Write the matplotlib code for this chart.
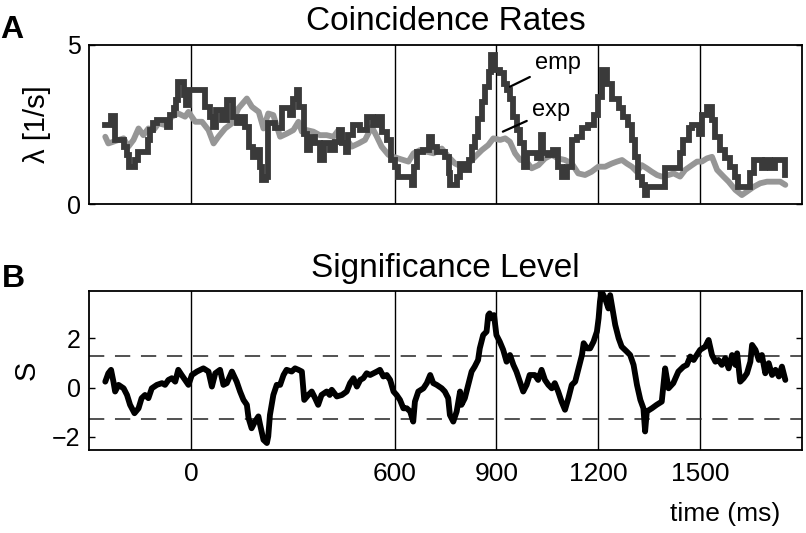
import matplotlib
matplotlib.use('Agg')
import matplotlib.pyplot as plt

# ---------------- data ----------------
emp_t = [-252, -235, -223, -198, -188, -182, -164, -156, -127, -120, -110, -100, -71, -61, -51, -44, -37,
         -21, -15, -4, 43, 55, 65, 74, 92, 106, 123, 135, 150, 160, 170, 184, 194, 204, 209, 220, 228,
         248, 268, 292, 302, 312, 320, 332, 341, 351, 366, 379, 391, 410, 425, 435, 445, 457, 464, 478,
         498, 518, 538, 552, 562, 577, 591, 601, 611, 650, 657, 665, 685, 700, 710, 724, 749, 759, 764,
         784, 793, 808, 818, 828, 838, 847, 857, 867, 877, 885, 896, 911, 921, 931, 940, 950, 960, 970,
         980, 989, 1019, 1031, 1038, 1053, 1068, 1082, 1092, 1107, 1122, 1136, 1151, 1171, 1186, 1200,
         1210, 1225, 1240, 1260, 1274, 1289, 1299, 1309, 1318, 1328, 1338, 1343, 1397, 1441, 1451, 1466,
         1476, 1496, 1505, 1520, 1535, 1545, 1560, 1574, 1589, 1604, 1613, 1648, 1658, 1682, 1692, 1707,
         1721, 1751]
emp_v = [2.49, 2.77, 2.02, 1.81, 1.55, 1.18, 1.39, 1.65, 2.02, 2.33, 2.54, 2.64, 2.43, 2.80, 3.01, 3.27, 3.84,
         3.43, 3.11, 3.58, 3.06, 2.75, 2.43, 2.96, 2.64, 3.27, 2.75, 2.54, 2.75, 2.43, 1.81, 1.49, 1.70, 1.18, 0.76, 0.87, 2.54,
         2.38, 3.01, 2.80, 3.32, 3.58, 3.06, 2.22, 1.70, 2.12, 1.91, 1.39, 1.91, 1.70, 1.96, 2.33, 1.91, 1.65, 2.17, 2.49,
         2.33, 2.75, 2.49, 2.75, 2.28, 2.02, 1.39, 1.18, 0.87, 0.61, 1.18, 1.65, 1.70, 2.12, 1.81, 1.65, 1.49, 0.97, 0.61,
         0.87, 1.28, 1.08, 1.39, 1.81, 2.12, 2.69, 3.22, 3.69, 4.16, 4.68, 4.21, 4.11, 3.79, 3.58, 3.32, 2.75, 2.33, 1.91,
         1.18, 1.60, 1.44, 2.17, 1.60, 1.55, 1.70, 1.18, 0.87, 1.18, 2.02, 2.12, 2.38, 2.49, 2.80, 3.37,
         4.21, 3.79, 3.32, 3.01, 2.75, 2.49, 2.02, 1.49, 0.87, 0.61, 0.29, 0.55, 1.13, 1.60, 2.02, 2.38,
         2.49, 2.22, 2.80, 3.06, 2.64, 2.12, 1.70, 1.44, 1.18, 0.87, 0.55, 0.97, 1.39, 1.13, 1.39, 1.13,
         1.39, 0.92]

exp_t = [-252, -243, -213, -198, -184, -169, -154, -140, -125, -110, -95, -76, -56, -37, -17, -7, 13, 33, 52,
         67, 81, 101, 121, 140, 165, 180, 200, 214, 228, 243, 263, 283, 302, 317, 327, 341, 361, 380, 400,
         420, 435, 454, 474, 494, 513, 533, 548, 562, 582, 597, 611, 626, 641, 656, 675, 695, 715, 739,
         759, 778, 798, 818, 837, 857, 876, 891, 911, 926, 940, 955, 970, 985, 1004, 1024, 1043, 1063,
         1082, 1102, 1122, 1141, 1161, 1180, 1200, 1220, 1240, 1255, 1270, 1284, 1299, 1314, 1328, 1343,
         1358, 1373, 1387, 1407, 1422, 1441, 1456, 1476, 1491, 1505, 1520, 1535, 1550, 1569, 1584, 1604,
         1623, 1638, 1658, 1677, 1697, 1717, 1736, 1751]
exp_v = [2.12, 1.91, 2.02, 2.07, 1.81, 2.02, 2.38, 2.17, 2.38, 2.33, 2.54, 2.49, 2.75, 2.85, 2.75, 2.90, 2.59, 2.59, 2.33,
         1.91, 2.12, 2.38, 2.54, 3.01, 3.32, 3.06, 2.90, 2.38, 2.85, 2.80, 2.12, 2.22, 2.33, 2.59, 2.28, 2.33, 2.28, 2.17, 2.17,
         2.12, 2.33, 2.12, 1.81, 1.91, 2.02, 2.43, 2.12, 1.81, 1.55, 1.49, 1.44, 1.39, 1.34, 1.60, 1.70, 1.65, 1.60, 1.75,
         1.49, 1.28, 1.18, 1.28, 1.49, 1.70, 1.86, 2.07, 2.02, 2.07, 1.96, 1.60, 1.39, 1.39, 1.13, 1.23, 1.44, 1.55,
         1.44, 1.39, 1.28, 0.97, 0.92, 1.02, 1.18, 1.18, 1.28, 1.34, 1.39, 1.28, 1.18, 1.02, 1.23, 1.13,
         1.02, 0.92, 0.87, 0.92, 0.97, 0.87, 1.08, 1.23, 1.34, 1.34, 1.44, 1.49, 1.08, 0.87, 0.71, 0.45,
         0.29, 0.40, 0.55, 0.66, 0.71, 0.71, 0.71, 0.61]

s_t = [-252, -243, -235, -228, -223, -213, -198, -188, -179, -166, -154, -145, -135, -125, -115, -100, -85, -76,
       -66, -56, -46, -37, -27, -17, -7, 3, 18, 28, 37, 52, 62, 72, 86, 96, 106, 121, 135, 145, 155, 165, 170,
       179, 189, 199, 204, 214, 224, 228, 233, 243, 253, 263, 273, 282, 297, 307, 317, 327, 334, 346, 356, 366,
       375, 385, 400, 409, 415, 430, 445, 459, 469, 479, 489, 499, 508, 518, 528, 538, 548, 557, 567, 577, 587,
       597, 606, 616, 626, 636, 646, 655, 660, 670, 685, 695, 705, 714, 724, 739, 748, 758, 763, 773, 783, 793,
       797, 807, 817, 827, 836, 846, 851, 861, 871, 876, 880, 885, 893, 900, 910, 920, 930, 940, 950, 959, 969,
       979, 989, 998, 1013, 1023, 1033, 1043, 1053, 1063, 1072, 1082, 1092, 1102, 1112, 1122, 1132, 1142, 1152,
       1157, 1167, 1176, 1186, 1196, 1201, 1205, 1210, 1220, 1230, 1235, 1240, 1250, 1260, 1269, 1284, 1294,
       1304, 1314, 1324, 1333, 1338, 1343, 1358, 1372, 1387, 1397, 1407, 1421, 1436, 1451, 1461, 1471, 1481,
       1490, 1500, 1515, 1525, 1535, 1545, 1554, 1564, 1574, 1584, 1594, 1604, 1609, 1618, 1628, 1638, 1648,
       1653, 1663, 1673, 1682, 1692, 1702, 1712, 1722, 1732, 1741, 1751]
s_v = [0.24, 0.58, 0.72, 0.24, -0.16, 0.11, -0.03, -0.30, -0.70, -1.04, -0.84, -0.43, -0.30, -0.43, -0.03, 0.11, 0.18, 0.11,
       0.31, 0.38, 0.24, 0.72, 0.51, 0.31, 0.11, 0.51, 0.65, 0.72, 0.78, 0.65, 0.04, 0.58, 0.72, 0.11, 0.18, 0.65, 0.24, -0.16, -0.50, -0.70, -1.24,
       -1.65, -1.38, -1.17, -1.51, -2.12, -2.25, -1.98, -1.11, -0.30, 0.11, 0.11, 0.51, 0.72, 0.65, 0.78, 0.72, 0.65, -0.50, -0.30, -0.16, -0.43,
       -0.70, -0.30, -0.16, -0.30, -0.09, -0.36, -0.30, -0.16, 0.18, 0.38, 0.04, 0.31, 0.38, 0.58, 0.51, 0.58, 0.65, 0.72, 0.45, 0.51, 0.31,
       -0.16, -0.30, -0.50, -0.84, -0.84, -0.97, -1.38, -0.57, -0.16, -0.03, 0.18, 0.51, 0.18, 0.11, -0.03, -0.16, -0.43, -1.11, -1.38, -0.97, -0.16,
       -0.70, -0.43, 0.11, 0.65, 0.85, 1.12, 1.59, 2.13, 2.27, 2.94, 3.01, 2.81, 2.94, 2.13, 1.86, 1.53, 1.05, 1.32, 0.92, 0.65, 0.24,
       -0.16, 0.11, 0.51, 0.51, 0.31, 0.72, 0.31, 0.11, -0.03, 0.18, -0.16, -0.57, -0.90, -0.43, 0.11, 0.24, 0.78, 1.32,
       1.80, 1.59, 1.59, 1.86, 2.27, 2.81, 3.48, 3.89, 3.62, 3.21, 3.75, 3.35, 2.54, 2.00, 1.66, 1.46, 1.32,
       0.92, 0.11, -0.50, -0.84, -1.78, -0.97, -0.84, -0.70, -0.57, 0.78, -0.03, 0.18, 0.65, 0.85, 0.92, 1.26, 1.12,
       1.32, 1.53, 1.66, 1.93, 1.32, 1.05, 1.12, 0.92, 1.19, 0.78, 1.32, 0.92, 1.39, 0.24, 0.38, 0.58, 1.05,
       1.73, 1.53, 1.12, 1.32, 0.58, 0.99, 0.51, 0.72, 0.45, 0.85, 0.31]

event_times = [0, 600, 900, 1200, 1500]
xtick_vals = [0, 600, 900, 1200, 1500]
xtick_labels = ['0', '600', '900', '1200', '1500']
rate_ticks = [0, 5]
s_ticks = [-2, 0, 2]
sig_level = 1.28

# ---------------- figure ----------------
plt.rcParams['font.family'] = ['Liberation Sans', 'DejaVu Sans']
fig = plt.figure(figsize=(8.06, 5.33), dpi=100)
axA = fig.add_axes([0.1104, 0.6167, 0.8846, 0.2989])
axB = fig.add_axes([0.1104, 0.1563, 0.8846, 0.2983])

for ax in (axA, axB):
    ax.set_xlim(-300, 1800)
    for t in event_times:
        ax.axvline(t, color='black', lw=1.0, zorder=1)
    for sp in ax.spines.values():
        sp.set_linewidth(1.3)
    ax.tick_params(axis='y', direction='in', length=4, width=1.0, right=True, labelsize=18, pad=6)
    ax.tick_params(axis='x', length=0)

# panel A
axA.plot(exp_t, exp_v, color='#969696', lw=4.2, solid_joinstyle='round', solid_capstyle='round', zorder=2)
axA.plot(emp_t, emp_v, color='#3a3a3a', lw=4.2, drawstyle='steps-post', solid_joinstyle='miter', zorder=3)
axA.set_ylim(0, 5)
axA.set_yticks(rate_ticks)
axA.set_xticks([])
axA.set_title('Coincidence Rates', fontsize=24, pad=11)
axA.annotate('emp', xy=(940, 3.69), xytext=(1014, 4.43), fontsize=17, va='center', ha='left',
             arrowprops=dict(arrowstyle='-', color='black', lw=1.6, shrinkA=2, shrinkB=0))
axA.annotate('exp', xy=(919, 2.28), xytext=(1005, 2.96), fontsize=17, va='center', ha='left',
             arrowprops=dict(arrowstyle='-', color='black', lw=1.6, shrinkA=2, shrinkB=0))

# panel B
axB.plot(s_t, s_v, color='black', lw=4.2, solid_joinstyle='round', solid_capstyle='round', zorder=3)
for lv in (sig_level, -sig_level):
    axB.axhline(lv, color='#222222', lw=1.1, linestyle=(0, (10, 7)), zorder=1)
axB.set_ylim(-2.52, 3.93)
axB.set_yticks(s_ticks)
axB.set_xticks(xtick_vals)
axB.set_xticklabels(xtick_labels)
axB.tick_params(axis='x', labelsize=19, pad=9)
axB.set_title('Significance Level', fontsize=24, pad=10)

# labels
fig.text(37 / 806, 1 - 124 / 533, 'λ [1/s]', rotation=90, ha='center', va='center', fontsize=21)
fig.text(27 / 806, 1 - 370 / 533, 'S', rotation=90, ha='center', va='center', fontsize=21)
fig.text(780 / 806, 1 - 514 / 533, 'time (ms)', ha='right', va='center', fontsize=19)
fig.text(0.0, 1 - 38 / 533, 'A', fontsize=23, fontweight='bold', ha='left', va='baseline')
fig.text(2 / 806, 1 - 287 / 533, 'B', fontsize=23, fontweight='bold', ha='left', va='baseline')

fig.savefig('out.png', dpi=100)
